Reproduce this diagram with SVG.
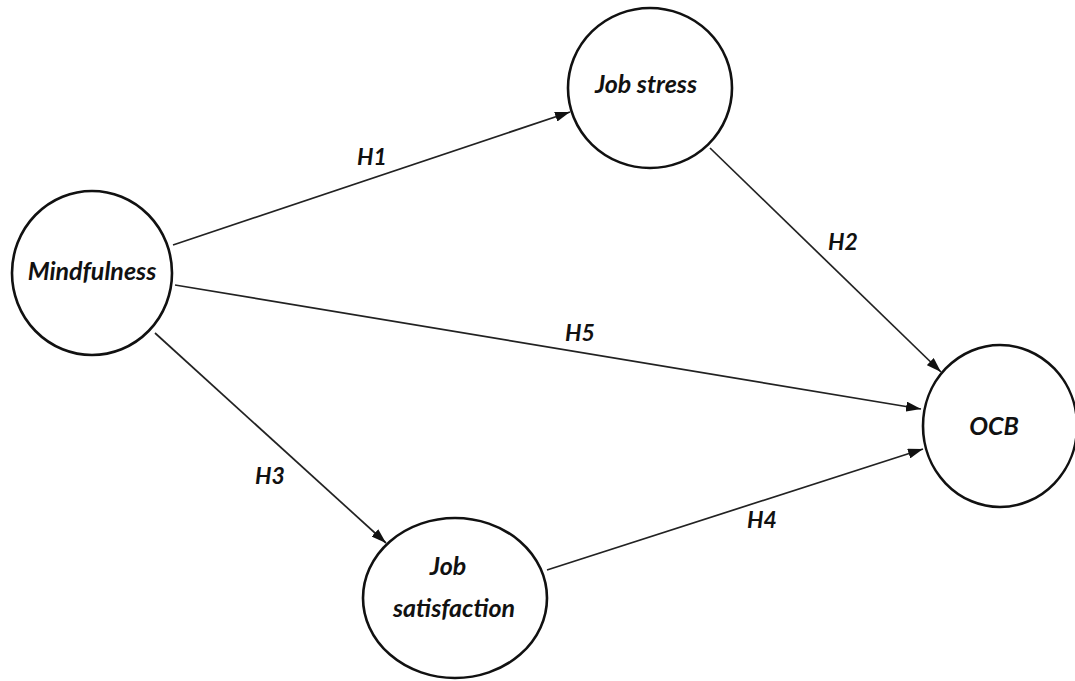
<svg xmlns="http://www.w3.org/2000/svg" width="1075" height="681" viewBox="0 0 1075 681">
<style>
.node{fill:#fff;stroke:#111;stroke-width:2.6}
.lbl{font-family:Lato,"Open Sans",sans-serif;font-weight:bold;font-style:italic;font-size:25px;fill:#111;text-anchor:middle}
.hl{font-family:Lato,"Open Sans",sans-serif;font-weight:bold;font-style:italic;font-size:23px;fill:#111;text-anchor:middle}
.edge{stroke:#222;stroke-width:1.7;fill:none;marker-end:url(#arr)}
</style>
<defs>
<marker id="arr" markerUnits="userSpaceOnUse" markerWidth="15" markerHeight="10" refX="15" refY="5" orient="auto">
<path d="M0,0 L15,5 L0,10 z" fill="#111"/>
</marker>
</defs>
<rect width="1075" height="681" fill="#fff"/>
<g id="connectors">
<line class="edge" x1="173" y1="245" x2="570" y2="112"/>
<line class="edge" x1="710" y1="148" x2="941" y2="372"/>
<line class="edge" x1="175" y1="285" x2="921" y2="409"/>
<line class="edge" x1="155" y1="333" x2="386" y2="543"/>
<line class="edge" x1="547" y1="570" x2="923" y2="449"/>
<text class="hl" x="372" y="165">H1</text>
<text class="hl" x="843" y="250">H2</text>
<text class="hl" x="580" y="341">H5</text>
<text class="hl" x="270" y="484">H3</text>
<text class="hl" x="762" y="528">H4</text>
</g>
<g id="mindfulness">
<ellipse class="node" cx="92" cy="273" rx="80" ry="82"/>
<text class="lbl" x="92" y="280">Mindfulness</text>
</g>
<g id="job-stress">
<ellipse class="node" cx="650" cy="88" rx="82" ry="80"/>
<text class="lbl" x="646" y="93">Job stress</text>
</g>
<g id="ocb">
<ellipse class="node" cx="1000" cy="426" rx="77" ry="81"/>
<text class="lbl" x="994" y="435">OCB</text>
</g>
<g id="job-satisfaction">
<ellipse class="node" cx="455" cy="598" rx="92" ry="80"/>
<text class="lbl" x="448" y="575">Job</text>
<text class="lbl" x="454" y="617">satisfaction</text>
</g>
</svg>
